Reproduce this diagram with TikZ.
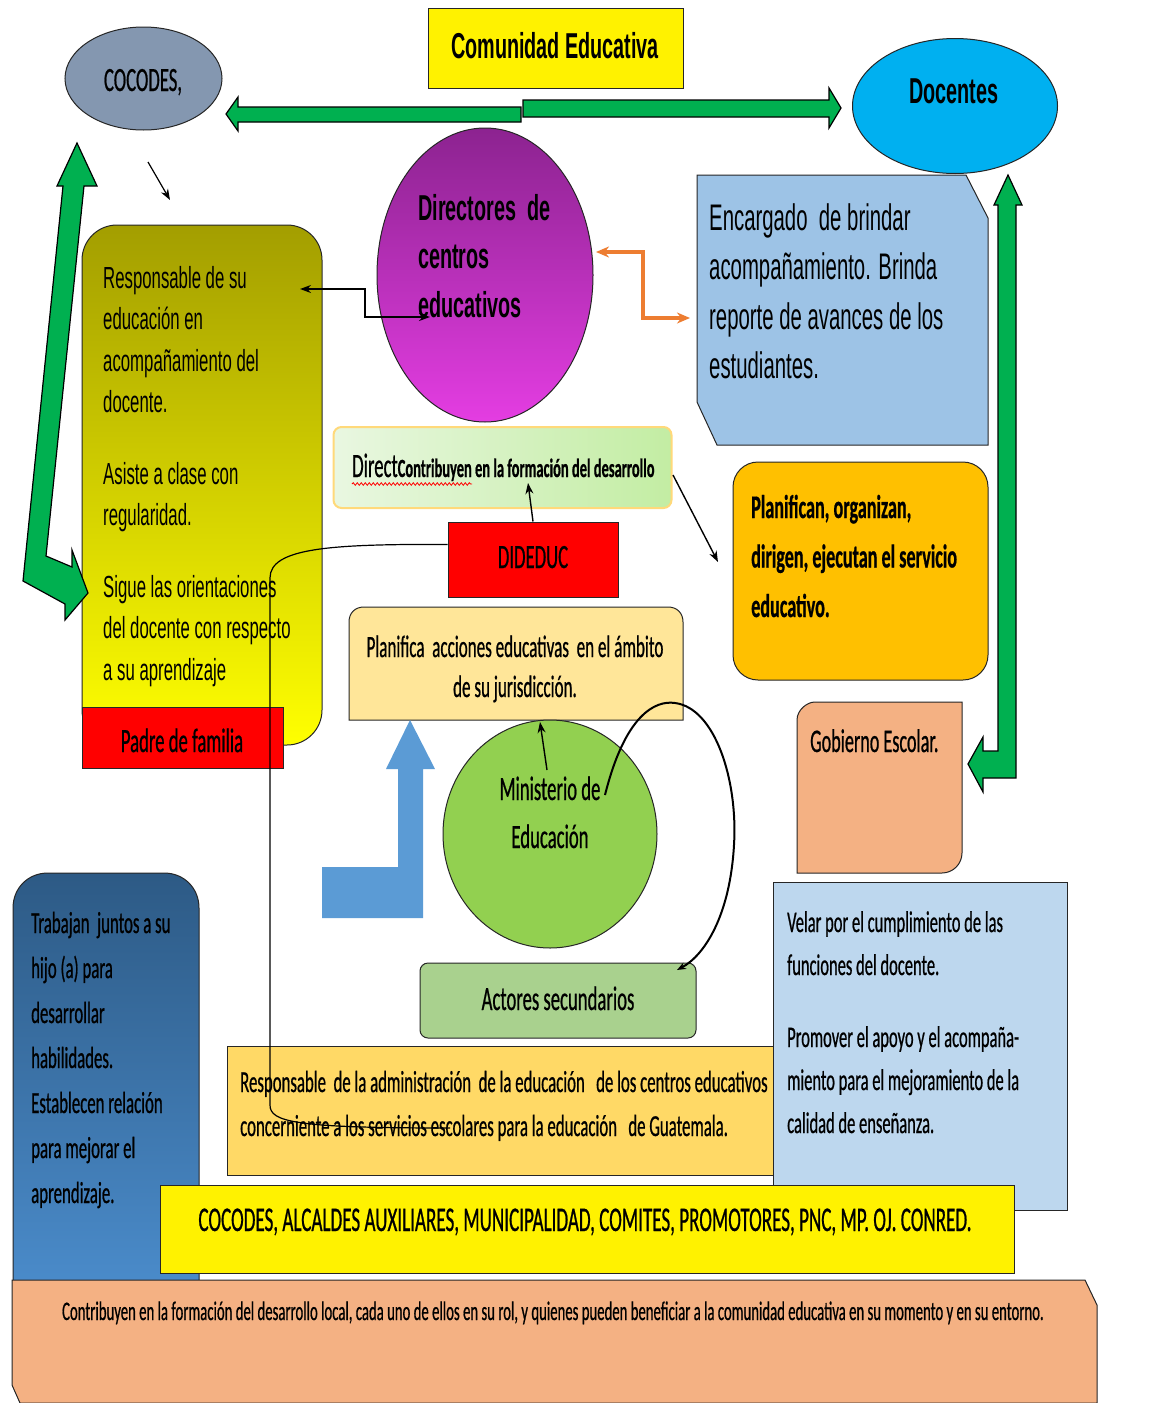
\documentclass[tikz,border=0pt]{standalone}
\usepackage{fontspec}
\setmainfont{Carlito}[FakeStretch=0.55, FakeBold=0.6]
\newfontfamily\arialn{Liberation Sans}[FakeStretch=0.55]
\usetikzlibrary{arrows.meta, shapes.geometric, decorations.pathmorphing}

\definecolor{cocgray}{HTML}{8497B0}
\definecolor{docblue}{HTML}{00B0F0}
\definecolor{arrowgreen}{HTML}{00B050}
\definecolor{encblue}{HTML}{9DC3E6}
\definecolor{velarblue}{HTML}{BDD7EE}
\definecolor{padreolive}{HTML}{A39E00}
\definecolor{dirtop}{HTML}{8C2390}
\definecolor{dirbot}{HTML}{E43DE2}
\definecolor{planorange}{HTML}{FFC000}
\definecolor{salmon}{HTML}{F4B183}
\definecolor{paleyellow}{HTML}{FFE699}
\definecolor{respgold}{HTML}{FFD966}
\definecolor{minigreen}{HTML}{92D050}
\definecolor{actgreen}{HTML}{A9D18E}
\definecolor{arrowblue}{HTML}{5B9BD5}
\definecolor{arroworange}{HTML}{ED7D31}
\definecolor{trabtop}{HTML}{2D5A85}
\definecolor{trabbot}{HTML}{4A8BCA}
\definecolor{directL}{HTML}{E9F7E1}
\definecolor{directR}{HTML}{C3EDA3}
\definecolor{directrim}{HTML}{FFD97A}

\tikzset{
  box/.style={draw=black!85, line width=1pt, inner sep=0pt},
  blockarrow/.style={draw=black, line width=1.2pt, fill=arrowgreen},
  conn/.style={line width=1.4pt, -{Stealth[length=11pt,width=8pt]}},
  bothconn/.style={line width=1.4pt, {Stealth[length=11pt,width=8pt]}-{Stealth[length=11pt,width=8pt]}},
  lbl/.style={inner sep=0pt, anchor=base},
  lblw/.style={inner sep=0pt, anchor=base west, align=left},
}

\begin{document}
\begin{tikzpicture}[x=1pt, y=-1pt]
\useasboundingbox (0,0) rectangle (1152,1403);
\fill[white] (0,0) rectangle (1152,1403);

%padre de familia
\node[box, rounded corners=35pt, top color=padreolive, bottom color=yellow,
  minimum width=240pt, minimum height=520pt] (padreBox) at (202,485) {};
\node[box, fill=red, minimum width=201pt, minimum height=61pt] (padreRed) at (182.5,737.5) {};
\node[lbl, font=\fontsize{34}{40}\selectfont] (padreLbl) at (182,752) {Padre de familia};
% multi-line texts are placed by their last line
\node[lblw, font=\arialn\fontsize{30.5}{41.5}\selectfont] (padreTxt) at (103,680)
  {Responsable de su\\educación en\\acompañamiento del\\docente.\\[30pt]Asiste a clase con\\regularidad.\\[30pt]Sigue las orientaciones\\del docente con respecto\\a su aprendizaje};

%directores
\node[ellipse, box, top color=dirtop, bottom color=dirbot,
  minimum width=216pt, minimum height=294pt] (directores) at (485,275) {};
\node[lblw, font=\arialn\bfseries\fontsize{36}{48.5}\selectfont] (dirTxt) at (418,317)
  {Directores\ \ de\\centros\\educativos};
\coordinate (padreIn) at (300,289);
\coordinate (dirIn) at (430,317);
\draw[bothconn] (padreIn) -| (365,317) -- (dirIn);

%encargado
\draw[box, fill=encblue] (697,175) -- (966,175) -- (988,218) -- (988,445) -- (717,445) -- (697,402) -- cycle;
\node[lblw, font=\arialn\fontsize{37}{49.5}\selectfont] (encTxt) at (709,378.5)
  {Encargado\ \ de brindar\\acompañamiento. Brinda\\reporte de avances de los\\estudiantes.};
\coordinate (dirOut) at (596,252);
\coordinate (encIn) at (690,318);
\draw[arroworange, line width=3.2pt, {Stealth[length=13pt,width=11pt]}-{Stealth[length=13pt,width=11pt]}]
  (dirOut) -| (643,318) -- (encIn);

%top row
\node[ellipse, box, fill=cocgray, minimum width=157pt, minimum height=103pt] (cocodes) at (143.5,78.5) {};
\node[lbl, font=\fontsize{34}{40}\selectfont] (cocodesLbl) at (143,91) {COCODES,};
\node[ellipse, box, fill=docblue, minimum width=205pt, minimum height=135pt] (docentes) at (955,106) {};
\node[lbl, font=\arialn\bfseries\fontsize{36}{40}\selectfont] (docLbl) at (954,103) {Docentes};
\node[box, fill=yellow, minimum width=255pt, minimum height=80pt] (comunidad) at (555.5,48) {};
\node[lbl, font=\arialn\bfseries\fontsize{36}{40}\selectfont] (comLbl) at (555,58) {Comunidad Educativa};
\draw[blockarrow] (521,107) -- (238,107) -- (238,97) -- (226,114) -- (238,131) -- (238,122) -- (521,122) -- cycle;
\draw[blockarrow] (523,100) -- (829,100) -- (829,88) -- (841,108) -- (829,128) -- (829,117) -- (523,117) -- cycle;
\coordinate (smallA) at (148,162);
\coordinate (smallB) at (170,200);
\draw[conn, line width=1.2pt] (smallA) -- (smallB);

%left bent arrow
\draw[blockarrow] (77,143) -- (97,186) -- (84,186) -- (46,556) -- (72,567) -- (72,550) -- (88,593)
  -- (65,620) -- (65,604) -- (23,581) -- (63,186) -- (57,186) -- cycle;

%direct + dideduc
\node[draw=directrim, line width=2pt, inner sep=0pt, rounded corners=8pt, left color=directL, right color=directR,
  minimum width=338pt, minimum height=81pt] (directBox) at (502.5,467.5) {};
\node[lblw] (directTxt) at (352,477)
  {{\fontsize{34}{40}\selectfont Direct}{\fontsize{26.3}{30}\selectfont\bfseries Contribuyen en la formación del desarrollo}};
\draw[red, line width=0.8pt, decorate, decoration={snake, amplitude=1.3pt, segment length=4pt}] (352,484) -- (472,484);
\node[box, fill=red, minimum width=170pt, minimum height=75pt] (dideduc) at (533,559.5) {};
\node[lbl, font=\fontsize{34}{40}\selectfont] (dideducLbl) at (533,568) {DIDEDUC};
\coordinate (directIn) at (528,483);
\draw[conn] (dideduc.north) -- (directIn);

%planifican
\node[box, fill=planorange, rounded corners=25pt, minimum width=255pt, minimum height=218pt] (planifican) at (860.5,571) {};
\node[lblw, font=\bfseries\fontsize{33}{49.5}\selectfont] (planTxt) at (751,617)
  {Planifican, organizan,\\dirigen, ejecutan el servicio\\educativo.};
\coordinate (directOut) at (673,475);
\coordinate (planIn) at (718,562);
\draw[conn] (directOut) -- (planIn);

%planifica
\draw[box, fill=paleyellow] (349,720) -- (349,622) .. controls (349,613) and (355,607) .. (364,607)
  -- (668,607) .. controls (677,607) and (683,613) .. (683,622) -- (683,720) -- cycle;
\node[lbl, align=center, font=\fontsize{31}{40}\selectfont] (planificaTxt) at (515,697)
  {Planifica\ \ acciones educativas\ \ en el ámbito\\de su jurisdicción.};
\fill[arrowblue] (410,720) -- (435,769) -- (423,769) -- (423,918) -- (322,918) -- (322,867)
  -- (398,867) -- (398,769) -- (386,769) -- cycle;

%ministerio
\node[ellipse, box, fill=minigreen, minimum width=214pt, minimum height=228pt] (ministerio) at (550,834) {};
\node[lbl, align=center, font=\fontsize{34}{48}\selectfont] (minTxt) at (550,848) {Ministerio de\\Educación};
\coordinate (minOut) at (547,770);
\coordinate (planificaIn) at (540,722);
\draw[conn] (minOut) -- (planificaIn);

%actores
\node[box, fill=actgreen, rounded corners=8pt, minimum width=276pt, minimum height=75pt] (actores) at (558,1000.5) {};
\node[lbl, font=\fontsize{34}{40}\selectfont] (actLbl) at (558,1010) {Actores secundarios};
\coordinate (loopStart) at (605,795);
\coordinate (actIn) at (677,970);
\draw[line width=2pt, -{Stealth[length=9pt,width=7pt]}] (loopStart) .. controls (625,715) and (655,700) .. (675,703)
  .. controls (715,708) and (738,780) .. (734,845) .. controls (730,915) and (705,955) .. (actIn);

%gobierno escolar
\draw[box, fill=salmon] (797,873) -- (797,720) .. controls (797,710) and (807,702) .. (815,702)
  -- (962,702) -- (962,853) .. controls (962,864) and (953,873) .. (942,873) -- cycle;
\node[lblw, font=\fontsize{33}{40}\selectfont] (gobTxt) at (810,752) {Gobierno Escolar.};
\draw[blockarrow] (1008,175) -- (1022,205) -- (1016,205) -- (1016,778) -- (983,778) -- (983,792)
  -- (968,764) -- (983,737) -- (983,751) -- (998,751) -- (998,205) -- (994,205) -- cycle;

%bottom boxes
\node[box, fill=respgold, minimum width=547pt, minimum height=129pt] (responsable) at (500.5,1111) {};
\node[lblw, font=\fontsize{30.5}{44}\selectfont] (respTxt) at (240,1136)
  {Responsable\ \ de la administración\ \ de la educación\ \ \ de los centros educativos\\concerniente a los servicios escolares para la educación\ \ \ de Guatemala.};
\node[box, fill=velarblue, minimum width=294pt, minimum height=328pt] (velar) at (920,1046) {};
\node[lblw, font=\fontsize{30}{43}\selectfont] (velarTxt) at (787,1133)
  {Velar por el cumplimiento de las\\funciones del docente.\\[29pt]Promover el apoyo y el acompaña-\\miento para el mejoramiento de la\\calidad de enseñanza.};
\shade[box, top color=trabtop, bottom color=trabbot] (13,1285) -- (13,908) .. controls (13,888) and (28,873) .. (48,873)
  -- (164,873) .. controls (184,873) and (199,888) .. (199,908) -- (199,1285) -- cycle;
\node[lblw, font=\fontsize{30.5}{45}\selectfont] (trabTxt) at (31,1203)
  {Trabajan\ \ juntos a su\\hijo (a) para\\desarrollar\\habilidades.\\Establecen relación\\para mejorar el\\aprendizaje.};
\node[box, fill=yellow, minimum width=854pt, minimum height=88pt] (cocodesBar) at (587,1229.5) {};
\node[lbl, font=\fontsize{34.7}{40}\selectfont] (barLbl) at (585,1231)
  {COCODES, ALCALDES AUXILIARES, MUNICIPALIDAD, COMITES, PROMOTORES, PNC, MP. OJ. CONRED.};
\draw[box, fill=salmon] (12,1280) -- (1085,1280) -- (1097,1305) -- (1097,1403) -- (20,1403) -- (12,1385) -- cycle;
\node[lbl, font=\fontsize{26.8}{30}\selectfont] (bottomLbl) at (553,1320)
  {Contribuyen en la formación del desarrollo local, cada uno de ellos en su rol, y quienes pueden beneficiar a la comunidad educativa en su momento y en su entorno.};

%line from dideduc
\draw[line width=1.2pt] (dideduc.170) .. controls (330,544) and (270,548) .. (270,578) -- (270,1105)
  .. controls (270,1122) and (295,1128) .. (450,1128);
\end{tikzpicture}
\end{document}
